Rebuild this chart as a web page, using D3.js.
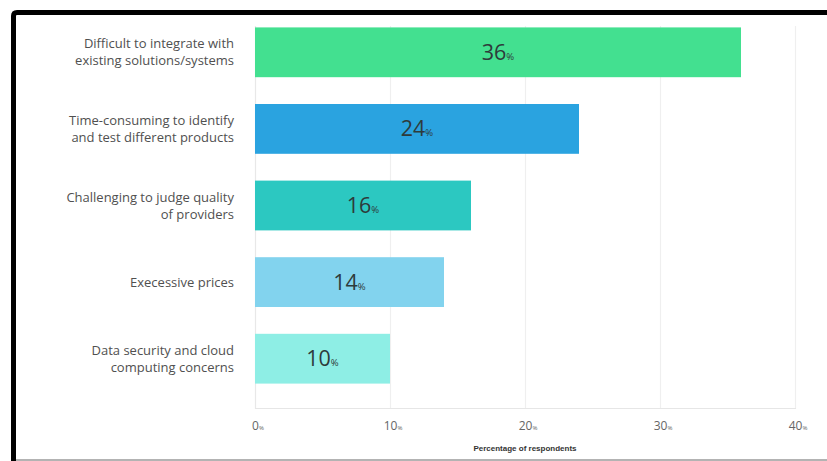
<!DOCTYPE html>
<html>
<head>
<meta charset="utf-8">
<script src="https://cdn.jsdelivr.net/npm/d3@7/dist/d3.min.js"></script>
<style>
  html, body { margin: 0; padding: 0; background: #fff; }
  svg { display: block; }
</style>
</head>
<body>
<script>
const categories = [
  ["Difficult to integrate with", "existing solutions/systems"],
  ["Time-consuming to identify", "and test different products"],
  ["Challenging to judge quality", "of providers"],
  ["Execessive prices"],
  ["Data security and cloud", "computing concerns"]
];
const values = [36, 24, 16, 14, 10];
const xTicks = [0, 10, 20, 30, 40];
const axisTitle = "Percentage of respondents";
const palette = ["#43e090", "#2aa3e0", "#2cc8c1", "#82d3ee", "#8eeee5"];

const W = 827, H = 461;
const svg = d3.select("body").append("svg").attr("width", W).attr("height", H);
const font = "'Open Sans', 'Noto Sans', sans-serif";

const x = d3.scaleLinear().domain([0, 40]).range([255, 795]);
const y = d3.scaleBand().domain(d3.range(values.length)).range([14, 397])
  .paddingInner(0.35).paddingOuter(0.175);

// gridlines
svg.append("g").selectAll("line").data(xTicks).join("line")
  .attr("x1", d => x(d) + 0.5).attr("x2", d => x(d) + 0.5)
  .attr("y1", 26).attr("y2", 409)
  .attr("stroke", d => d === 0 ? "#e8e8e8" : "#efefef").attr("stroke-width", 1.2);
svg.append("line").attr("x1", x(0)).attr("x2", x(40) + 1)
  .attr("y1", 408.5).attr("y2", 408.5).attr("stroke", "#e6e6e6").attr("stroke-width", 1.2);

// bars
svg.append("g").selectAll("rect").data(values).join("rect")
  .attr("x", x(0)).attr("y", (d, i) => y(i))
  .attr("width", d => x(d) - x(0)).attr("height", y.bandwidth())
  .attr("fill", (d, i) => palette[i]);

// value labels
const vl = svg.append("g").selectAll("text").data(values).join("text")
  .attr("x", d => (x(0) + x(d)) / 2)
  .attr("y", (d, i) => y(i) + y.bandwidth() / 2 + 7.5)
  .attr("text-anchor", "middle")
  .attr("font-family", font).attr("fill", "#2e3b3b");
vl.append("tspan").attr("font-size", 21.5).text(d => d);
vl.append("tspan").attr("font-size", 9.5).text("%");

// category labels
const cl = svg.append("g").selectAll("text").data(categories).join("text")
  .attr("text-anchor", "end")
  .attr("font-family", font).attr("font-size", 13).attr("fill", "#505050");
cl.each(function(lines, i) {
  const cy = y(i) + y.bandwidth() / 2;
  const lh = 17;
  const start = cy - (lines.length - 1) * lh / 2 + 4.5;
  d3.select(this).selectAll("tspan").data(lines).join("tspan")
    .attr("x", 234).attr("y", (d, k) => start + k * lh).text(d => d);
});

// x tick labels
const tl = svg.append("g").selectAll("text").data(xTicks).join("text")
  .attr("x", d => x(d) + 3).attr("y", 430)
  .attr("text-anchor", "middle")
  .attr("font-family", font).attr("fill", "#666");
tl.append("tspan").attr("font-size", 12).text(d => d);
tl.append("tspan").attr("font-size", 6).text("%");

svg.append("text").attr("x", 525).attr("y", 451).attr("text-anchor", "middle")
  .attr("font-family", "'Liberation Sans Narrow', 'Liberation Sans', sans-serif")
  .attr("font-weight", "bold").attr("font-size", 8).attr("fill", "#333")
  .text(axisTitle);

// frame
svg.append("path").attr("d", `M13.5,${H} L13.5,16 Q13.5,12.5 17,12.5 L${W},12.5`)
  .attr("fill", "none").attr("stroke", "#000").attr("stroke-width", 5);
svg.append("line").attr("x1", 16).attr("x2", W).attr("y1", 460).attr("y2", 460)
  .attr("stroke", "#9a9a9a").attr("stroke-width", 1.5);
</script>
</body>
</html>
